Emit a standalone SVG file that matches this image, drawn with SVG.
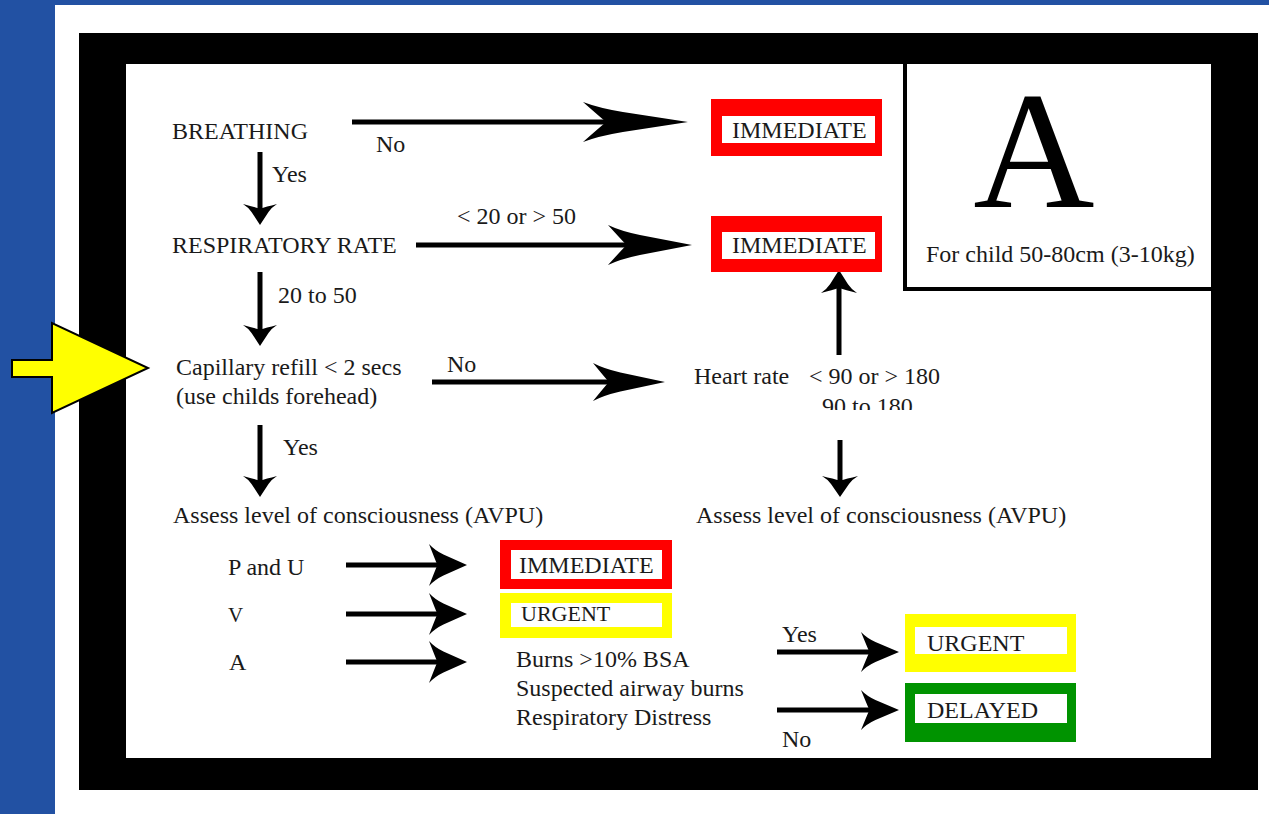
<svg xmlns="http://www.w3.org/2000/svg" xmlns:xlink="http://www.w3.org/1999/xlink" width="1269" height="814" viewBox="0 0 1269 814">
<style>
text{font-family:"Liberation Serif","Times New Roman",serif;font-size:24px;fill:#1a1a1a}
.ln{stroke:#000;stroke-width:5;fill:none}
.red{fill:#ff0000}.yel{fill:#ffff00}.grn{fill:#009300}.wh{fill:#fff}
</style>
<defs>
<path id="ah" d="M0,0 L-0.62,-0.5 Q-0.85,-0.7 -1,-1 Q-0.86,-0.35 -0.78,0 Q-0.86,0.35 -1,1 Q-0.85,0.7 -0.62,0.5 Z" fill="#000"/>
<clipPath id="cl"><rect x="800" y="390" width="150" height="20"/></clipPath>
</defs>
<rect x="0" y="0" width="1269" height="814" fill="#fff"/>
<rect x="0" y="0" width="55" height="814" fill="#2251a3"/>
<rect x="0" y="0" width="1269" height="5" fill="#2251a3"/>
<g id="frame">
<rect x="79" y="33" width="1179" height="757" fill="#000"/>
<rect x="126" y="64" width="1085" height="694" fill="#fff"/>
</g>
<g id="abox">
<rect x="903" y="64" width="4" height="227" fill="#000"/>
<rect x="903" y="287" width="308" height="4" fill="#000"/>
<text x="1034" y="207" text-anchor="middle" style="font-size:168px;fill:#000">A</text>
<text x="926" y="262">For child 50-80cm (3-10kg)</text>
</g>
<g id="pointer">
<polygon points="12,360 52,360 52,323 148,368 52,413 52,377 12,377" fill="#ffff00" stroke="#000" stroke-width="2" stroke-linejoin="miter"/>
</g>
<g id="connectors">
<line class="ln" x1="352" y1="122" x2="610" y2="122"/>
<use xlink:href="#ah" transform="translate(688,122) scale(105,20)"/>
<line class="ln" x1="416" y1="245" x2="630" y2="245"/>
<use xlink:href="#ah" transform="translate(692,245) scale(84,20)"/>
<line class="ln" x1="432" y1="382" x2="615" y2="382"/>
<use xlink:href="#ah" transform="translate(665,382) scale(72,19)"/>
<line class="ln" x1="260" y1="152" x2="260" y2="212"/>
<use xlink:href="#ah" transform="translate(260,225) rotate(90) scale(21,17)"/>
<line class="ln" x1="260" y1="272" x2="260" y2="333"/>
<use xlink:href="#ah" transform="translate(260,346) rotate(90) scale(21,17)"/>
<line class="ln" x1="260" y1="425" x2="260" y2="484"/>
<use xlink:href="#ah" transform="translate(260,497) rotate(90) scale(21,17)"/>
<line class="ln" x1="839" y1="355" x2="839" y2="285"/>
<use xlink:href="#ah" transform="translate(839,270) rotate(-90) scale(23,18)"/>
<line class="ln" x1="840" y1="440" x2="840" y2="482"/>
<use xlink:href="#ah" transform="translate(840,497) rotate(90) scale(21,18)"/>
<line class="ln" x1="346" y1="565" x2="440" y2="565"/>
<use xlink:href="#ah" transform="translate(467,565) scale(38,21)"/>
<line class="ln" x1="346" y1="614" x2="440" y2="614"/>
<use xlink:href="#ah" transform="translate(467,614) scale(38,21)"/>
<line class="ln" x1="346" y1="662" x2="440" y2="662"/>
<use xlink:href="#ah" transform="translate(467,662) scale(38,21)"/>
<line class="ln" x1="777" y1="652" x2="872" y2="652"/>
<use xlink:href="#ah" transform="translate(899,652) scale(38,20)"/>
<line class="ln" x1="777" y1="710" x2="872" y2="710"/>
<use xlink:href="#ah" transform="translate(899,710) scale(38,20)"/>
</g>
<g id="labels">
<text x="376" y="152">No</text>
<text x="272" y="182">Yes</text>
<text x="457" y="224">&lt; 20 or &gt; 50</text>
<text x="278" y="303">20 to 50</text>
<text x="447" y="372">No</text>
<text x="283" y="455">Yes</text>
<text x="782" y="642">Yes</text>
<text x="782" y="747">No</text>
</g>
<g id="breathing"><text x="172" y="139">BREATHING</text></g>
<g id="resp"><text x="172" y="253">RESPIRATORY RATE</text></g>
<g id="cap">
<text x="176" y="375">Capillary refill &lt; 2 secs</text>
<text x="176" y="404">(use childs forehead)</text>
</g>
<g id="heart">
<text x="694" y="384">Heart rate</text>
<text x="809" y="384">&lt; 90 or &gt; 180</text>
<text x="822" y="414" clip-path="url(#cl)">90 to 180</text>
</g>
<g id="avpu1"><text x="173" y="523">Assess level of consciousness (AVPU)</text></g>
<g id="avpu2"><text x="696" y="523">Assess level of consciousness (AVPU)</text></g>
<g id="pu"><text x="228" y="575">P and U</text></g>
<g id="v"><text x="228" y="622" style="font-size:21px">V</text></g>
<g id="a"><text x="229" y="670">A</text></g>
<g id="burns">
<text x="516" y="667">Burns &gt;10% BSA</text>
<text x="516" y="696">Suspected airway burns</text>
<text x="516" y="725">Respiratory Distress</text>
</g>
<g id="imm1">
<rect class="red" x="711" y="99" width="171" height="57"/>
<rect class="wh" x="722" y="116" width="153" height="27"/>
<text x="732" y="138">IMMEDIATE</text>
</g>
<g id="imm2">
<rect class="red" x="711" y="216" width="171" height="56"/>
<rect class="wh" x="722" y="232" width="153" height="27"/>
<text x="732" y="253">IMMEDIATE</text>
</g>
<g id="imm3">
<rect class="red" x="500" y="540" width="172" height="49"/>
<rect class="wh" x="511" y="550" width="151" height="29"/>
<text x="519" y="573">IMMEDIATE</text>
</g>
<g id="urg1">
<rect class="yel" x="500" y="593" width="172" height="45"/>
<rect class="wh" x="511" y="603" width="151" height="24"/>
<text x="521" y="621" style="font-size:22px">URGENT</text>
</g>
<g id="urg2">
<rect class="yel" x="905" y="614" width="171" height="58"/>
<rect class="wh" x="915" y="627" width="152" height="27"/>
<text x="927" y="651">URGENT</text>
</g>
<g id="del">
<rect class="grn" x="905" y="683" width="171" height="59"/>
<rect class="wh" x="915" y="694" width="152" height="29"/>
<text x="927" y="718">DELAYED</text>
</g>
</svg>
